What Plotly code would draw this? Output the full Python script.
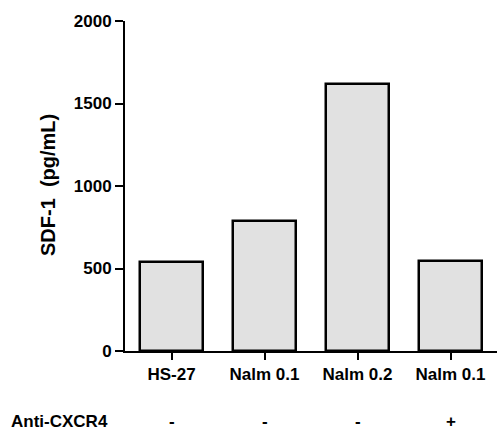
import plotly.graph_objects as go

categories = ["HS-27", "Nalm 0.1", "Nalm 0.2", "Nalm 0.1"]
sdf1_values = [540, 790, 1620, 545]
anti_cxcr4 = ["-", "-", "-", "+"]
y_ticks = [0, 500, 1000, 1500, 2000]
row_label = "Anti-CXCR4"
y_title = "SDF-1\u00a0\u00a0(pg/mL)"

positions = list(range(len(categories)))
FONT = "Liberation Sans, Arial, sans-serif"
W, H = 497, 433
ML, MR, MT, MB = 125, 0, 21, 82
PW, PH = W - ML - MR, H - MT - MB


def bold(size):
    return dict(family=FONT, size=size, color="black", weight="bold")


fig = go.Figure()
fig.add_trace(go.Bar(
    x=positions, y=sdf1_values, width=0.667,
    marker=dict(color="#e1e1e1", line=dict(color="black", width=2.5)),
    showlegend=False,
))

row_y = -(421 - (H - MB)) / PH
annotations = []
for p, s in zip(positions, anti_cxcr4):
    annotations.append(dict(x=p, y=row_y, xref="x", yref="paper", text=s,
                            showarrow=False, font=bold(17),
                            xanchor="center", yanchor="middle"))
annotations.append(dict(x=(9 - ML) / PW, y=row_y, xref="paper", yref="paper",
                        text=row_label, showarrow=False, font=bold(17),
                        xanchor="left", yanchor="middle"))
annotations.append(dict(x=(48 - ML) / PW, y=(H - MB - 185) / PH, xref="paper", yref="paper",
                        text=y_title, textangle=-90, showarrow=False, font=bold(20),
                        xanchor="center", yanchor="middle"))

fig.update_layout(
    width=W, height=H,
    margin=dict(l=ML, r=MR, t=MT, b=MB, autoexpand=False),
    plot_bgcolor="white", paper_bgcolor="white",
    font=bold(17),
    bargap=0,
    xaxis=dict(range=[-0.5, 3.5], tickvals=positions, ticktext=categories,
               showline=True, linecolor="black", linewidth=2,
               ticks="outside", ticklen=7, tickwidth=2, tickcolor="black",
               showgrid=False, zeroline=False, automargin=False,
               tickfont=bold(17)),
    yaxis=dict(range=[0, 2000], tickvals=y_ticks,
               showline=True, linecolor="black", linewidth=2,
               ticks="outside", ticklen=8, tickwidth=2, tickcolor="black",
               showgrid=False, zeroline=False, automargin=False,
               tickfont=bold(17)),
    annotations=annotations,
)

fig.write_html("out.html", config={"displayModeBar": False},
               post_script="document.body.style.margin='0';document.body.style.overflow='hidden';")
